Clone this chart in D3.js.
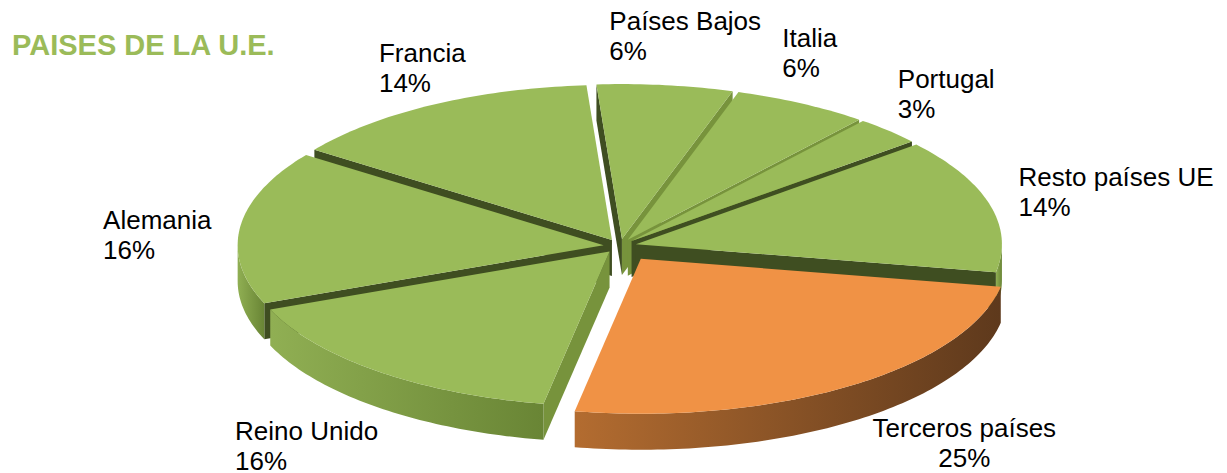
<!DOCTYPE html>
<html>
<head>
<meta charset="utf-8">
<script src="https://cdn.jsdelivr.net/npm/d3@7"></script>
<style>
  body { margin: 0; background: #fff; }
  svg text { font-family: "Liberation Sans", Arial, sans-serif; }
</style>
</head>
<body>
<div id="chart"></div>
<script>
// slices in clockwise order, starting just left of 12 o'clock
var categories = ['Países Bajos', 'Italia', 'Portugal', 'Resto países UE', 'Terceros países', 'Reino Unido', 'Alemania', 'Francia'];
var shares = [6, 6, 3, 14, 25, 16, 16, 14];
var highlight = 'Terceros países';
var title = 'PAISES DE LA U.E.';
// nudges for the data labels, from their radial anchor
var labelShift = [[8, -7], [-40, -14], [-13, -7], [29, -2], [70, 28], [-8, 41], [17, 13], [38, 0]];

var width = 1227, height = 473;
var cx = 620, cy = 246, rx = 366, ry = 155, depth = 36;
var rad = Math.PI / 180;

var colors = {
  green: { top: '#9abb59', mid: '#77933c', dark: '#3f4e21', wallL: '#90af53', wallR: '#698535' },
  orange: { top: '#f09245', mid: '#a4612a', dark: '#5f3a1d', wallL: '#b36c30', wallR: '#5e391c' }
};

var svg = d3.select('#chart').append('svg')
    .attr('width', width)
    .attr('height', height);

var defs = svg.append('defs');

svg.append('text')
    .attr('x', 12)
    .attr('y', 55)
    .attr('fill', '#9bbb59')
    .attr('font-size', 29)
    .attr('font-weight', 'bold')
    .text(title);

var pie = d3.pie()
    .sort(null)
    .value(function (d) { return d.value; })
    .startAngle(-4 * rad)
    .endAngle(356 * rad);

var data = categories.map(function (c, i) { return { name: c, value: shares[i], idx: i }; });
var arcs = pie(data);

function P(a, r, off, z) {
  return [cx + off.x + rx * r * Math.sin(a), cy + off.y - ry * r * Math.cos(a) + z];
}

function rim(a0, a1, off, z) {
  var n = Math.max(2, Math.ceil((a1 - a0) / rad));
  return d3.range(n + 1).map(function (i) { return P(a0 + (a1 - a0) * i / n, 1, off, z); });
}

var line = d3.line();

arcs.forEach(function (d) {
  d.mid = (d.startAngle + d.endAngle) / 2;
  var e = d.data.name === highlight ? 0.1 : 0.045;
  d.off = { x: rx * e * Math.sin(d.mid), y: -ry * e * Math.cos(d.mid) };
  d.pal = d.data.name === highlight ? colors.orange : colors.green;
});

// back to front
var order = arcs.slice().sort(function (a, b) { return -Math.cos(a.mid) + Math.cos(b.mid); });

var g = svg.append('g');

function wallShade(pal, nx, ny) {
  var phi = Math.atan2(nx, ny) / rad;
  if (phi < 0) phi += 360;
  return (phi >= 90 && phi <= 135) ? pal.mid : pal.dark;
}

order.forEach(function (d) {
  var a0 = d.startAngle, a1 = d.endAngle, off = d.off, pal = d.pal;
  var s = g.append('g');

  // radial walls facing the viewer
  if (Math.sin(a0) < 0) {
    s.append('path')
        .attr('d', line([P(a0, 0, off, 0), P(a0, 1, off, 0), P(a0, 1, off, depth), P(a0, 0, off, depth)]) + 'Z')
        .attr('fill', wallShade(pal, -Math.cos(a0), Math.sin(a0)));
  }
  if (Math.sin(a1) > 0) {
    s.append('path')
        .attr('d', line([P(a1, 0, off, 0), P(a1, 1, off, 0), P(a1, 1, off, depth), P(a1, 0, off, depth)]) + 'Z')
        .attr('fill', wallShade(pal, Math.cos(a1), -Math.sin(a1)));
  }

  // outer curved wall, front half only
  var b0 = Math.max(a0, Math.PI / 2), b1 = Math.min(a1, 3 * Math.PI / 2);
  if (b1 > b0) {
    var top = rim(b0, b1, off, 0);
    var pts = top.concat(rim(b0, b1, off, depth).reverse());
    var xs = d3.extent(pts, function (p) { return p[0]; });
    var gid = 'wall' + d.data.idx;
    var grad = defs.append('linearGradient')
        .attr('id', gid)
        .attr('gradientUnits', 'userSpaceOnUse')
        .attr('x1', xs[0]).attr('x2', xs[1])
        .attr('y1', 0).attr('y2', 0);
    grad.append('stop').attr('offset', 0).attr('stop-color', pal.wallL);
    grad.append('stop').attr('offset', 1).attr('stop-color', pal.wallR);
    s.append('path')
        .attr('d', line(pts) + 'Z')
        .attr('fill', 'url(#' + gid + ')');
  }

  // top face
  s.append('path')
      .attr('d', line([P(0, 0, off, 0)].concat(rim(a0, a1, off, 0))) + 'Z')
      .attr('fill', pal.top);
});

// data labels
var labels = svg.append('g')
    .attr('font-size', 26)
    .attr('fill', '#000');

arcs.forEach(function (d) {
  var i = d.data.idx;
  var c = P(d.mid, 1.32, { x: 0, y: 0 }, 0);
  c[0] += labelShift[i][0];
  c[1] += labelShift[i][1];
  var centered = d.data.name === highlight;
  var t1 = labels.append('text').text(d.data.name);
  var t2 = labels.append('text').text(d.data.value + '%');
  var w = Math.max(t1.node().getComputedTextLength(), t2.node().getComputedTextLength());
  var x = centered ? c[0] : c[0] - w / 2;
  [t1, t2].forEach(function (t, k) {
    t.attr('x', x)
     .attr('y', c[1] - 5.5 + k * 30)
     .attr('text-anchor', centered ? 'middle' : 'start');
  });
});
</script>
</body>
</html>
